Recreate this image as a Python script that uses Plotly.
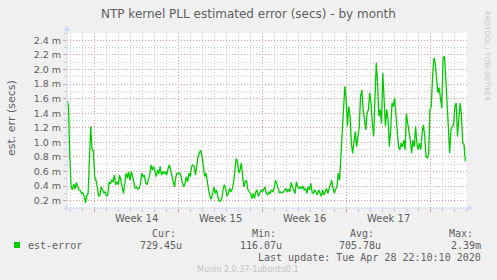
import pandas as pd
import plotly.graph_objects as go

# ---------------- data ----------------
title = "NTP kernel PLL estimated error (secs) - by month"
y_title = "est. err (secs)"
series_name = "est-error"

# estimated error in milliseconds, evenly spaced samples
est_error_ms = [
    1.57, 1.50, 0.81, 0.39, 0.35, 0.43, 0.36, 0.45, 0.39, 0.35, 0.34, 0.30, 0.31, 0.26, 0.17, 0.27,
    0.30, 0.71, 1.22, 0.90, 0.89, 0.53, 0.48, 0.39, 0.26, 0.28, 0.39, 0.35, 0.31, 0.32, 0.26, 0.28,
    0.46, 0.43, 0.48, 0.46, 0.55, 0.42, 0.46, 0.42, 0.55, 0.48, 0.39, 0.30, 0.44, 0.58, 0.51, 0.60,
    0.48, 0.60, 0.53, 0.42, 0.37, 0.39, 0.36, 0.37, 0.44, 0.58, 0.53, 0.55, 0.44, 0.42, 0.48, 0.55,
    0.69, 0.62, 0.67, 0.58, 0.53, 0.62, 0.57, 0.67, 0.55, 0.60, 0.57, 0.60, 0.55, 0.64, 0.69, 0.62,
    0.51, 0.46, 0.39, 0.53, 0.58, 0.57, 0.58, 0.53, 0.44, 0.39, 0.44, 0.53, 0.46, 0.58, 0.53, 0.67,
    0.69, 0.67, 0.55, 0.71, 0.81, 0.86, 0.89, 0.81, 0.62, 0.53, 0.58, 0.44, 0.35, 0.26, 0.22, 0.30,
    0.39, 0.30, 0.35, 0.26, 0.20, 0.19, 0.23, 0.35, 0.42, 0.37, 0.26, 0.30, 0.37, 0.32, 0.36, 0.44,
    0.58, 0.78, 0.74, 0.58, 0.62, 0.72, 0.53, 0.39, 0.46, 0.48, 0.35, 0.32, 0.30, 0.23, 0.30, 0.23,
    0.32, 0.35, 0.26, 0.30, 0.35, 0.32, 0.36, 0.39, 0.30, 0.28,
    0.32, 0.30, 0.35, 0.32, 0.37, 0.48, 0.44, 0.35, 0.31, 0.32, 0.31, 0.32, 0.35, 0.37, 0.32, 0.36,
    0.32, 0.45, 0.39, 0.35, 0.30, 0.46, 0.39, 0.37, 0.39, 0.36, 0.40, 0.35, 0.37, 0.30, 0.39, 0.35,
    0.44, 0.32, 0.30, 0.35, 0.30, 0.28, 0.35, 0.30, 0.26, 0.35, 0.28, 0.32, 0.37, 0.30, 0.36, 0.42,
    0.48, 0.37, 0.30, 0.36, 0.39, 0.58, 0.48, 0.81, 1.22, 1.45, 1.77, 1.59, 1.22, 1.49, 1.36, 0.99,
    0.85, 0.99, 1.15, 0.94, 1.13, 1.22, 1.63, 1.72, 1.45, 1.31, 1.17, 1.40, 1.45, 1.68, 1.54, 1.26,
    1.08, 1.59, 2.09, 1.81, 1.36, 1.45, 1.26, 1.95, 1.63, 1.22, 1.45, 1.31, 0.94, 1.17, 1.54, 1.49,
    1.61, 1.36, 1.17, 0.94, 0.90, 0.99, 0.94, 1.03, 0.90, 1.40, 1.26, 1.17, 1.03, 0.85, 1.03, 0.94,
    1.22, 0.99, 0.90, 0.99, 0.90, 1.13, 1.24, 1.08, 0.81, 0.78, 0.85, 1.45, 1.49, 1.91, 2.16, 2.09,
    1.91, 1.68, 1.75, 1.63, 1.47, 2.16, 2.18, 1.91, 1.45, 1.22, 0.85, 1.17, 1.22, 1.24, 1.49, 1.54,
    1.08, 1.36, 1.54, 1.38, 0.99, 0.97, 0.74,
]
sample_start = "2020-03-27 18:20"
sample_end = "2020-04-29 22:40"
x_range = ["2020-03-27 18:00", "2020-04-30 02:00"]

week_starts = ["2020-03-30", "2020-04-06", "2020-04-13", "2020-04-20", "2020-04-27"]
week_labels = ["Week 14", "Week 15", "Week 16", "Week 17"]

y_range = [0.1, 2.5]
y_ticks = [0.2, 0.4, 0.6, 0.8, 1.0, 1.2, 1.4, 1.6, 1.8, 2.0, 2.2, 2.4]
y_tick_text = [f"{v:.1f} m" for v in y_ticks]

stat_labels = ["Cur:", "Min:", "Avg:", "Max:"]
stat_values = ["729.45u", "116.07u", "705.78u", "2.39m"]
last_update = "Last update: Tue Apr 28 22:10:10 2020"
munin_version = "Munin 2.0.37-1ubuntu0.1"
rrd_credit = "RRDTOOL / TOBI OETIKER"

# ---------------- layout constants ----------------
W, H = 497, 280
L, R, T, B = 67, 30, 33, 72
PW, PH = W - L - R, H - T - B
BOTTOM = H - B

FONT = "DejaVu Sans"
MONO = "DejaVu Sans Mono"
FONT_COLOR = "#5e5e5e"
AXIS_COLOR = "#CFD6F8"
MGRID = "rgba(240,110,110,0.6)"
GRID = "rgba(150,150,150,0.45)"
LINE_GREEN = "#00CC00"


def px(xp):
    return (xp - L) / PW


def py(yp):
    return (BOTTOM - yp) / PH


times = pd.date_range(sample_start, sample_end, periods=len(est_error_ms))
week_mid = [pd.Timestamp(w) + pd.Timedelta(hours=84) for w in week_starts[:-1]]

fig = go.Figure()
fig.add_trace(go.Scatter(
    x=times, y=est_error_ms, mode="lines", name=series_name,
    line=dict(color=LINE_GREEN, width=1.3), showlegend=False, hoverinfo="skip",
))

annotations = []
for m, lab in zip(week_mid, week_labels):
    annotations.append(dict(x=m, xref="x", y=py(218), yref="paper", text=lab,
                            showarrow=False, xanchor="center", yanchor="middle",
                            font=dict(family=FONT, size=10, color=FONT_COLOR)))

# legend / stats block
annotations.append(dict(x=px(26), y=py(245), xref="paper", yref="paper", text=series_name,
                        showarrow=False, xanchor="left", yanchor="middle",
                        font=dict(family=MONO, size=10, color=FONT_COLOR)))
label_left = [150, 250, 348, 447]
value_right = [184, 284, 383, 483]
for lx, lab in zip(label_left, stat_labels):
    annotations.append(dict(x=px(lx), y=py(233), xref="paper", yref="paper", text=lab,
                            showarrow=False, xanchor="left", yanchor="middle",
                            font=dict(family=MONO, size=10, color=FONT_COLOR)))
for vx, val in zip(value_right, stat_values):
    annotations.append(dict(x=px(vx), y=py(245), xref="paper", yref="paper", text=val,
                            showarrow=False, xanchor="right", yanchor="middle",
                            font=dict(family=MONO, size=10, color=FONT_COLOR)))
annotations.append(dict(x=px(483), y=py(257), xref="paper", yref="paper", text=last_update,
                        showarrow=False, xanchor="right", yanchor="middle",
                        font=dict(family=MONO, size=10, color=FONT_COLOR)))
annotations.append(dict(x=px(248), y=py(269), xref="paper", yref="paper", text=munin_version,
                        showarrow=False, xanchor="center", yanchor="middle",
                        font=dict(family=FONT, size=8, color="#c4c4c4")))
annotations.append(dict(x=px(487), y=py(56), xref="paper", yref="paper", text=rrd_credit,
                        showarrow=False, xanchor="center", yanchor="middle", textangle=90,
                        font=dict(family=FONT, size=7, color="#c8c8c8")))
annotations.append(dict(x=px(11), y=py(118), xref="paper", yref="paper", text=y_title,
                        showarrow=False, xanchor="center", yanchor="middle", textangle=-90,
                        font=dict(family=FONT, size=11, color=FONT_COLOR)))
annotations.append(dict(x=px(248), y=py(14), xref="paper", yref="paper", text=title,
                        showarrow=False, xanchor="center", yanchor="middle",
                        font=dict(family=FONT, size=12, color=FONT_COLOR)))

shapes = [
    # legend colour box
    dict(type="rect", xref="paper", yref="paper", x0=px(14), x1=px(20), y0=py(248), y1=py(242),
         fillcolor=LINE_GREEN, line=dict(width=0)),
    # axis extensions and arrows
    dict(type="line", xref="paper", yref="paper", x0=px(67), x1=px(67), y0=py(211), y1=py(30),
         line=dict(color=AXIS_COLOR, width=1)),
    dict(type="line", xref="paper", yref="paper", x0=px(64), x1=px(469), y0=py(208), y1=py(208),
         line=dict(color=AXIS_COLOR, width=1)),
    dict(type="path", xref="paper", yref="paper",
         path=f"M {px(64)} {py(31)} L {px(70)} {py(31)} L {px(67)} {py(26)} Z",
         fillcolor=AXIS_COLOR, line=dict(width=0)),
    dict(type="path", xref="paper", yref="paper",
         path=f"M {px(468)} {py(205)} L {px(468)} {py(211)} L {px(473)} {py(208)} Z",
         fillcolor=AXIS_COLOR, line=dict(width=0)),
]

fig.update_layout(
    width=W, height=H,
    margin=dict(l=L, r=R, t=T, b=B, pad=0),
    paper_bgcolor="#F0F0F0", plot_bgcolor="#FFFFFF",
    font=dict(family=FONT, size=10, color=FONT_COLOR),
    annotations=annotations, shapes=shapes,
    showlegend=False,
)
fig.update_xaxes(
    type="date", range=x_range, tickmode="array", tickvals=week_starts,
    ticktext=[""] * len(week_starts), showgrid=True, gridcolor=MGRID, griddash="1px,2px",
    gridwidth=1, ticks="outside", ticklen=3, tickcolor=MGRID, showline=False, zeroline=False,
    minor=dict(dtick=86400000, tick0="2020-03-30", showgrid=True, gridcolor=GRID,
               griddash="1px,2px", gridwidth=1, ticks="outside", ticklen=3, tickcolor=GRID),
    fixedrange=True,
)
fig.update_yaxes(
    range=y_range, tickmode="array", tickvals=y_ticks, ticktext=y_tick_text,
    showgrid=True, gridcolor=MGRID, griddash="1px,2px", gridwidth=1,
    ticks="outside", ticklen=3, tickcolor=MGRID, showline=False, zeroline=False,
    tickfont=dict(family=FONT, size=9.5, color=FONT_COLOR),
    minor=dict(dtick=0.1, tick0=0.1, showgrid=True, gridcolor=GRID, griddash="1px,2px",
               gridwidth=1, ticks="outside", ticklen=2, tickcolor=GRID),
    fixedrange=True,
)

fig.write_html("out.html")
